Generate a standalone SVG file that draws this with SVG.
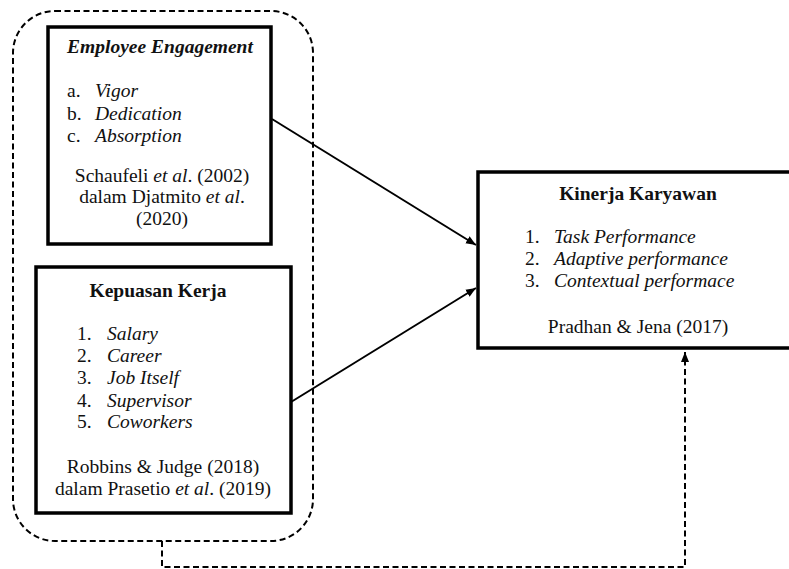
<svg xmlns="http://www.w3.org/2000/svg" width="789" height="569" viewBox="0 0 789 569">
<defs>
<marker id="ah" viewBox="0 0 10 10" refX="10" refY="5" markerWidth="10" markerHeight="10" markerUnits="userSpaceOnUse" orient="auto">
<path d="M0,1 L10,5 L0,9 z" fill="#000"/>
</marker>
</defs>
<style>
text{font-family:"Liberation Serif","Times New Roman",serif;font-size:19.5px;fill:#111}
.b{font-weight:bold}
.i{font-style:italic}
.c{text-anchor:middle}
.box{fill:#fff;stroke:#000;stroke-width:3.5}
.dash{fill:none;stroke:#000;stroke-width:2;stroke-dasharray:6 3.5}
.ln{fill:none;stroke:#000;stroke-width:2}
</style>
<rect class="dash" x="13" y="11" width="300" height="530" rx="42" ry="42"/>
<g id="employee-engagement">
<rect class="box" x="48" y="27" width="223" height="217"/>
<text class="b i c" x="160" y="53">Employee Engagement</text>
<text x="67" y="97">a.</text><text class="i" x="95" y="97">Vigor</text>
<text x="67" y="120">b.</text><text class="i" x="95" y="120">Dedication</text>
<text x="67" y="142">c.</text><text class="i" x="95" y="142">Absorption</text>
<text class="c" x="162" y="182">Schaufeli <tspan class="i">et al</tspan>. (2002)</text>
<text class="c" x="162" y="203">dalam Djatmito <tspan class="i">et al</tspan>.</text>
<text class="c" x="162" y="225">(2020)</text>
</g>
<g id="kepuasan-kerja">
<rect class="box" x="36" y="267" width="255" height="246"/>
<text class="b c" x="158" y="297">Kepuasan Kerja</text>
<text x="77" y="340">1.</text><text class="i" x="107" y="340">Salary</text>
<text x="77" y="362">2.</text><text class="i" x="107" y="362">Career</text>
<text x="77" y="384">3.</text><text class="i" x="107" y="384">Job Itself</text>
<text x="77" y="407">4.</text><text class="i" x="107" y="407">Supervisor</text>
<text x="77" y="428">5.</text><text class="i" x="107" y="428">Coworkers</text>
<text class="c" x="163" y="473">Robbins &amp; Judge (2018)</text>
<text class="c" x="163" y="495">dalam Prasetio <tspan class="i">et al</tspan>. (2019)</text>
</g>
<g id="kinerja-karyawan">
<rect class="box" x="478" y="172" width="320" height="176"/>
<text class="b c" x="638" y="200">Kinerja Karyawan</text>
<text x="525" y="243">1.</text><text class="i" x="554" y="243">Task Performance</text>
<text x="525" y="265">2.</text><text class="i" x="554" y="265">Adaptive performance</text>
<text x="525" y="287">3.</text><text class="i" x="554" y="287">Contextual performace</text>
<text class="c" x="638" y="333">Pradhan &amp; Jena (2017)</text>
</g>
<g id="connectors">
<line class="ln" x1="272" y1="119" x2="476" y2="245" marker-end="url(#ah)"/>
<line class="ln" x1="291" y1="402" x2="476" y2="288" marker-end="url(#ah)"/>
<polyline class="dash" points="162,541 162,567 685,567 685,352" marker-end="url(#ah)"/>
</g>
</svg>
